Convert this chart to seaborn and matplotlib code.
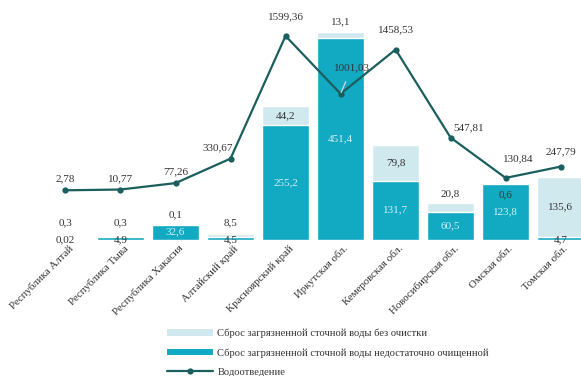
import numpy as np
import pandas as pd
import matplotlib
matplotlib.use("Agg")
import matplotlib.pyplot as plt
import seaborn as sns
from matplotlib.patches import Patch
from matplotlib.lines import Line2D

regions = ["Республика Алтай", "Республика Тыва", "Республика Хакасия",
           "Алтайский край", "Красноярский край", "Иркутская обл.",
           "Кемеровская обл.", "Новосибирская обл.", "Омская обл.",
           "Томская обл."]
partly_treated = [0.02, 4.9, 32.6, 4.5, 255.2, 451.4, 131.7, 60.5, 123.8, 4.7]
untreated = [0.3, 0.3, 0.1, 8.5, 44.2, 13.1, 79.8, 20.8, 0.6, 135.6]
drainage = [2.78, 10.77, 77.26, 330.67, 1599.36, 1001.03, 1458.53, 547.81,
            130.84, 247.79]

# label offsets (points) for the line values
line_offsets = [(0, 8), (0, 8), (0, 8), (-9, 8), (0, 14), (8, 19), (0, 14),
                (13, 7), (9, 14), (0, 11)]

LIGHT = "#d0e9ef"
DARK = "#12a9c2"
LINE = "#1b5e5e"
TXT = "#333333"

sns.set_theme(style="white")
plt.rcParams["font.family"] = ["Liberation Serif", "DejaVu Serif"]

df = pd.DataFrame({"region": regions, "dark": partly_treated, "light": untreated,
                   "line": drainage})
df["total"] = df["dark"] + df["light"]
df["x"] = np.arange(len(df))

fig = plt.figure(figsize=(5.81, 3.76), dpi=100)
ax = fig.add_axes([0, 1 - 239.5 / 376, 1, 239.5 / 376])

sns.barplot(data=df, x="x", y="total", color=LIGHT, width=0.86, ax=ax,
            saturation=1, native_scale=True)
sns.barplot(data=df, x="x", y="dark", color=DARK, width=0.86, ax=ax,
            saturation=1, native_scale=True)
ax.set_xlim(-1.19, 9.37)
ax.set_ylim(0, 536)

ax2 = ax.twinx()
sns.lineplot(data=df, x="x", y="line", color=LINE, lw=1.6, marker="o",
             markersize=4.5, markeredgewidth=0, ax=ax2)
ax2.set_ylim(-506, 1971)

fs = 8
# bar labels
for i, r in df.iterrows():
    x = r["x"]
    if r["dark"] >= 20:
        ax.text(x, r["dark"] / 2, f"{r['dark']:g}".replace(".", ","),
                ha="center", va="center", color="#d6f0f5", fontsize=fs)
    else:
        ax.text(x, 0, f"{r['dark']:g}".replace(".", ","), ha="center",
                va="center", color=TXT, fontsize=fs)
    lab = f"{r['light']:g}".replace(".", ",")
    if r["light"] >= 40:
        ax.text(x, r["dark"] + r["light"] / 2, lab, ha="center", va="center",
                color=TXT, fontsize=fs)
    elif r["total"] < 20:
        ax.annotate(lab, (x, 0), xytext=(0, 12), textcoords="offset points",
                    ha="center", va="center", color=TXT, fontsize=fs)
    elif r["light"] < 1 and r["total"] > 100:
        ax.annotate(lab, (x, r["total"]), xytext=(0, -8),
                    textcoords="offset points", ha="center", va="center",
                    color=TXT, fontsize=fs)
    else:
        ax.annotate(lab, (x, r["total"]), xytext=(0, 7),
                    textcoords="offset points", ha="center", va="center",
                    color=TXT, fontsize=fs)

# line labels
for i, r in df.iterrows():
    dx, dy = line_offsets[i]
    lab = f"{r['line']:.2f}".replace(".", ",")
    if i == 5:
        ax2.annotate(lab, (r["x"], r["line"]), xytext=(dx, dy),
                     textcoords="offset points", ha="center", va="center",
                     color=TXT, fontsize=fs,
                     arrowprops=dict(arrowstyle="-", color="#e0e0e0", lw=0.8,
                                     shrinkA=5, shrinkB=1))
    else:
        ax2.annotate(lab, (r["x"], r["line"]), xytext=(dx, dy),
                     textcoords="offset points", ha="center", va="center",
                     color=TXT, fontsize=fs)

for a in (ax, ax2):
    sns.despine(ax=a, left=True, right=True, top=True, bottom=True)
    a.set_yticks([])
    a.set_ylabel("")
    a.set_xlabel("")
ax.set_xticks(df["x"])
ax.set_xticklabels(regions, rotation=45, ha="right", rotation_mode="anchor",
                   fontsize=7.8, color=TXT)
ax.tick_params(axis="x", length=0, pad=3)
for t in ax.get_xticklabels():
    t.set_transform(t.get_transform() + matplotlib.transforms.ScaledTranslation(
        2 / 72, 0, fig.dpi_scale_trans))

handles = [Patch(facecolor=LIGHT, edgecolor="none"),
           Patch(facecolor=DARK, edgecolor="none"),
           Line2D([], [], color=LINE, lw=1.6, marker="o", markersize=4.5,
                  markeredgewidth=0)]
labels = ["Сброс загрязненной сточной воды без очистки",
          "Сброс загрязненной сточной воды недостаточно очищенной",
          "Водоотведение"]
fig.legend(handles, labels, loc="upper left", bbox_to_anchor=(0.287, 0.126),
           frameon=False, fontsize=7.6, handlelength=4.4, handleheight=0.55,
           labelspacing=0.95, handletextpad=0.4, labelcolor=TXT,
           borderaxespad=0, borderpad=0)

fig.savefig("out.png", dpi=100)
